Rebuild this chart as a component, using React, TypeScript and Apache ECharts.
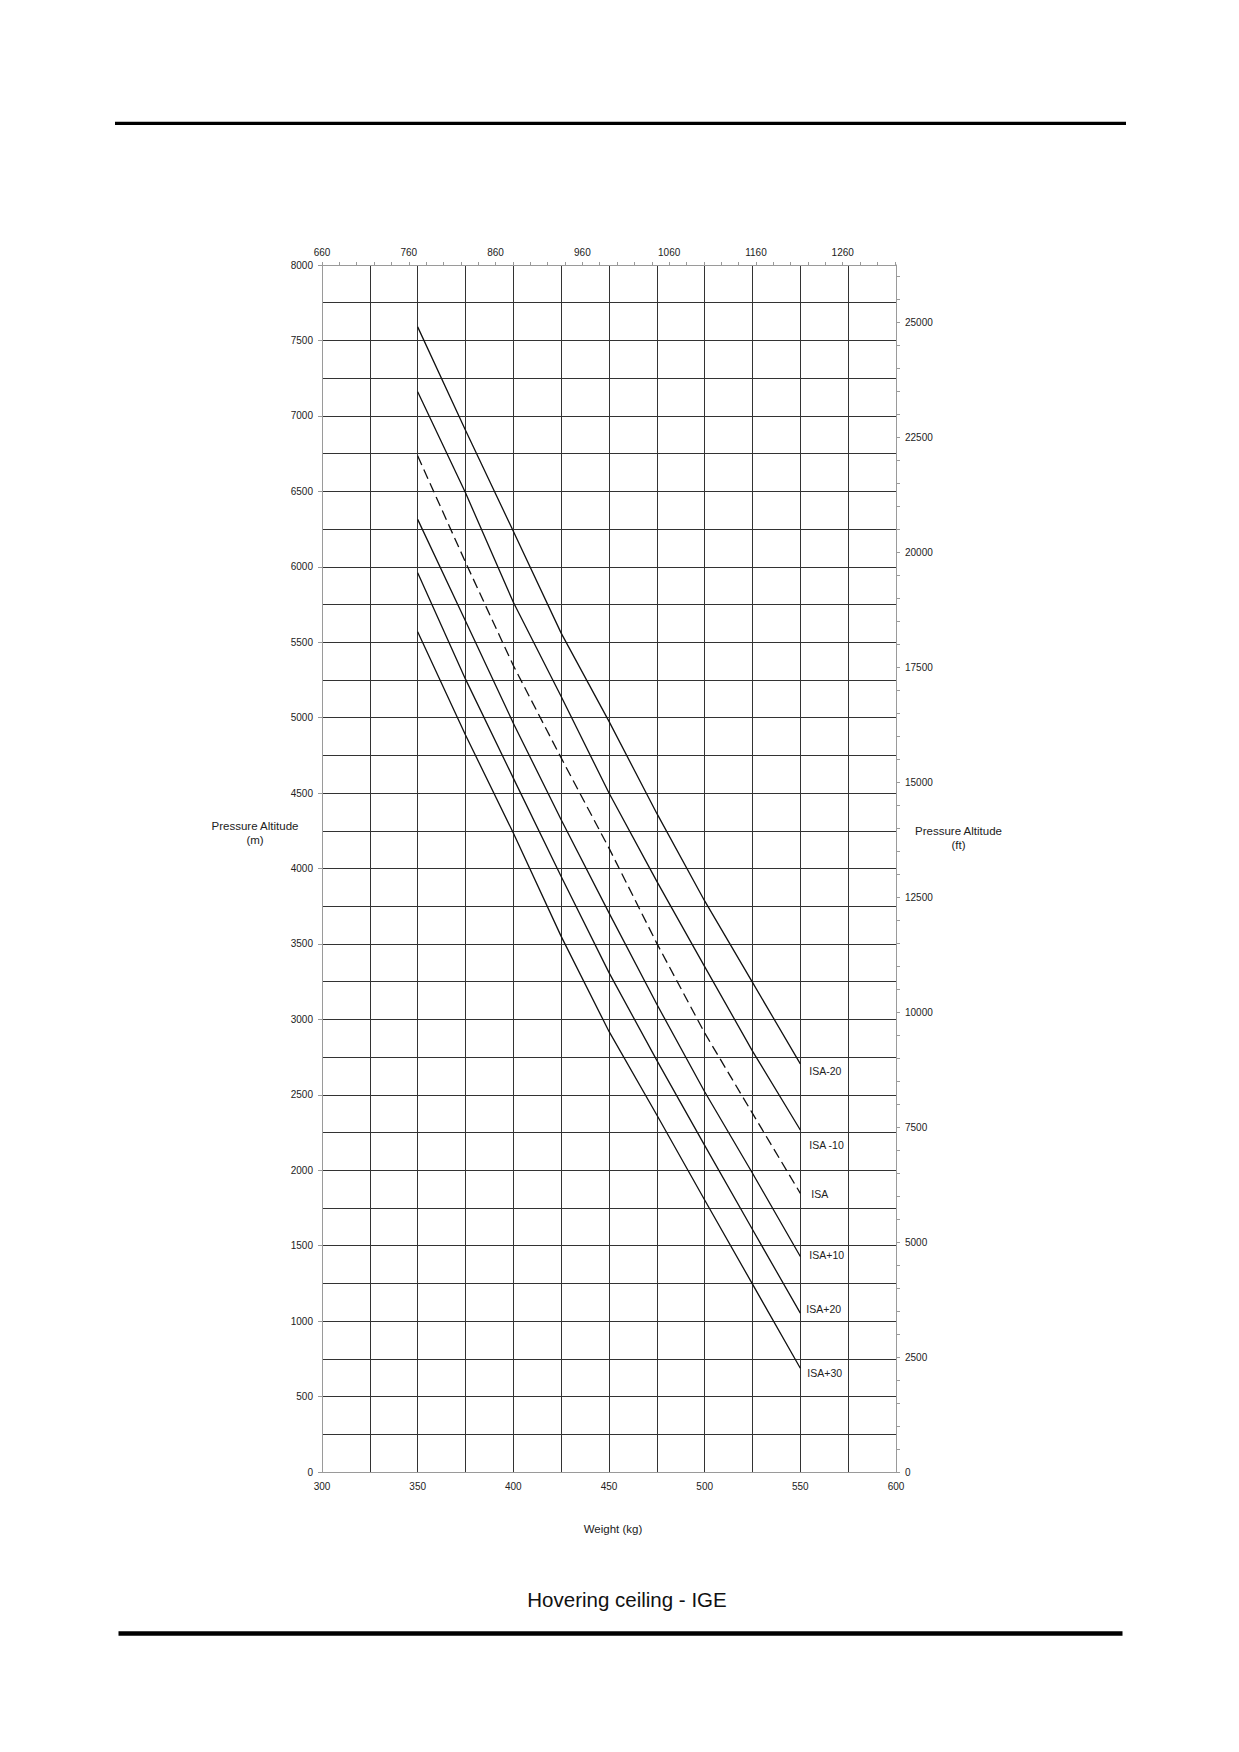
import React, { useEffect, useRef } from "react";
import * as echarts from "echarts";

// ---- data ----
const weightsKg = [350, 375, 400, 425, 450, 475, 500, 525, 550];
const isaMinus20 = [7590, 6905, 6235, 5560, 4975, 4365, 3785, 3245, 2705];
const isaMinus10 = [7160, 6490, 5765, 5140, 4500, 3915, 3350, 2790, 2267];
const isa = [6735, 6030, 5345, 4733, 4135, 3504, 2910, 2377, 1847];
const isaPlus10 = [6314, 5640, 4963, 4323, 3706, 3100, 2520, 1980, 1428];
const isaPlus20 = [5960, 5255, 4599, 3947, 3310, 2728, 2165, 1607, 1053];
const isaPlus30 = [5569, 4885, 4235, 3550, 2920, 2366, 1803, 1245, 688];
const curveNames = ["ISA-20", "ISA -10", "ISA", "ISA+10", "ISA+20", "ISA+30"];
const curveValues = [isaMinus20, isaMinus10, isa, isaPlus10, isaPlus20, isaPlus30];

// axis ranges
const kgMin = 300;
const kgMax = 600;
const mMin = 0;
const mMax = 8000;
const LB_PER_KG = 2.20462;
const FT_PER_M = 1 / 0.3048;
const lbMin = 660;

// ---- styles ----
const FONT = "Liberation Sans, Arial, Helvetica, sans-serif";
const GRID_COLOR = "#333";
const BORDER_COLOR = "#9a9a9a";
const TEXT_COLOR = "#222";
const labelOffsets: [number, number][] = [
  [9, 7],
  [9, 15],
  [11, 1],
  [9, -2],
  [6, -4],
  [7, 5],
];

export default function App() {
  const ref = useRef<HTMLDivElement>(null);

  useEffect(() => {
    if (!ref.current) return;
    const chart = echarts.init(ref.current, undefined, { renderer: "svg" });

    const series = curveNames.map((name, i) => ({
      type: "line",
      name,
      xAxisIndex: 0,
      yAxisIndex: 0,
      data: weightsKg.map((w, j) => [w, curveValues[i][j]]),
      symbol: "none",
      silent: true,
      smooth: false,
      lineStyle: {
        color: "#111",
        width: 1.3,
        type: name === "ISA" ? [10, 5] : "solid",
      },
      endLabel: {
        show: true,
        formatter: name,
        distance: 0,
        offset: labelOffsets[i],
        color: TEXT_COLOR,
        fontSize: 10.5,
        fontFamily: FONT,
      },
      z: 5,
    }));

    const plain = (v: number) => String(Math.round(v));

    const option: any = {
      animation: false,
      backgroundColor: "#fff",
      grid: {
        left: 322,
        top: 265,
        width: 574,
        height: 1207,
        containLabel: false,
        outerBoundsMode: "none",
      },
      xAxis: [
        {
          type: "value",
          position: "bottom",
          min: kgMin,
          max: kgMax,
          interval: 50,
          axisLine: { show: true, onZero: false, lineStyle: { color: BORDER_COLOR, width: 1 } },
          axisTick: { show: false },
          axisLabel: {
            color: TEXT_COLOR,
            fontSize: 10,
            fontFamily: FONT,
            margin: 9,
            formatter: plain,
          },
          splitLine: {
            show: true,
            showMinLine: false,
            showMaxLine: false,
            lineStyle: { color: GRID_COLOR, width: 1 },
          },
          minorTick: { show: false, splitNumber: 2 },
          minorSplitLine: { show: true, lineStyle: { color: GRID_COLOR, width: 1 } },
          z: 2,
        },
        {
          type: "value",
          position: "top",
          min: lbMin,
          max: lbMin + (kgMax - kgMin) * LB_PER_KG,
          interval: 20,
          axisLine: { show: true, onZero: false, lineStyle: { color: BORDER_COLOR, width: 1 } },
          axisTick: { show: true, inside: false, length: 3, lineStyle: { color: BORDER_COLOR } },
          axisLabel: {
            color: TEXT_COLOR,
            fontSize: 10,
            fontFamily: FONT,
            margin: 8,
            showMaxLabel: false,
            formatter: (v: number) => {
              const r = Math.round(v);
              return (r - lbMin) % 100 === 0 ? String(r) : "";
            },
          },
          splitLine: { show: false },
          z: 2,
        },
      ],
      yAxis: [
        {
          type: "value",
          position: "left",
          min: mMin,
          max: mMax,
          interval: 500,
          axisLine: { show: true, onZero: false, lineStyle: { color: BORDER_COLOR, width: 1 } },
          axisTick: { show: true, inside: false, length: 4, lineStyle: { color: BORDER_COLOR } },
          axisLabel: {
            color: TEXT_COLOR,
            fontSize: 10,
            fontFamily: FONT,
            margin: 9,
            formatter: plain,
          },
          splitLine: {
            show: true,
            showMinLine: false,
            showMaxLine: false,
            lineStyle: { color: GRID_COLOR, width: 1 },
          },
          minorTick: { show: false, splitNumber: 2 },
          minorSplitLine: { show: true, lineStyle: { color: GRID_COLOR, width: 1 } },
          z: 2,
        },
        {
          type: "value",
          position: "right",
          min: 0,
          max: mMax * FT_PER_M,
          interval: 500,
          axisLine: { show: true, onZero: false, lineStyle: { color: BORDER_COLOR, width: 1 } },
          axisTick: { show: true, inside: false, length: 4, lineStyle: { color: BORDER_COLOR } },
          axisLabel: {
            color: TEXT_COLOR,
            fontSize: 10,
            fontFamily: FONT,
            margin: 9,
            showMaxLabel: false,
            formatter: (v: number) => {
              const r = Math.round(v);
              return r % 2500 === 0 ? String(r) : "";
            },
          },
          splitLine: { show: false },
          z: 2,
        },
      ],
      series,
      graphic: [
        {
          type: "rect",
          shape: { x: 115, y: 121.7, width: 1011, height: 3.3 },
          style: { fill: "#000" },
          silent: true,
        },
        {
          type: "rect",
          shape: { x: 118.5, y: 1631.3, width: 1004, height: 4.4 },
          style: { fill: "#000" },
          silent: true,
        },
        {
          type: "text",
          x: 255,
          y: 833,
          style: {
            text: "Pressure Altitude\n(m)",
            align: "center",
            verticalAlign: "middle",
            fontSize: 11.5,
            lineHeight: 14,
            fontFamily: FONT,
            fill: TEXT_COLOR,
          },
          silent: true,
        },
        {
          type: "text",
          x: 958.5,
          y: 837.5,
          style: {
            text: "Pressure Altitude\n(ft)",
            align: "center",
            verticalAlign: "middle",
            fontSize: 11.5,
            lineHeight: 14,
            fontFamily: FONT,
            fill: TEXT_COLOR,
          },
          silent: true,
        },
        {
          type: "text",
          x: 613,
          y: 1529,
          style: {
            text: "Weight (kg)",
            align: "center",
            verticalAlign: "middle",
            fontSize: 11.5,
            fontFamily: FONT,
            fill: TEXT_COLOR,
          },
          silent: true,
        },
        {
          type: "text",
          x: 627,
          y: 1599.5,
          style: {
            text: "Hovering ceiling - IGE",
            align: "center",
            verticalAlign: "middle",
            fontSize: 20.5,
            fontFamily: FONT,
            fill: "#111",
          },
          silent: true,
        },
      ],
    };

    chart.setOption(option);
    return () => {
      chart.dispose();
    };
  }, []);

  return (
    <div
      ref={ref}
      style={{
        position: "absolute",
        left: 0,
        top: 0,
        width: 1239,
        height: 1752,
        background: "#fff",
      }}
    />
  );
}
